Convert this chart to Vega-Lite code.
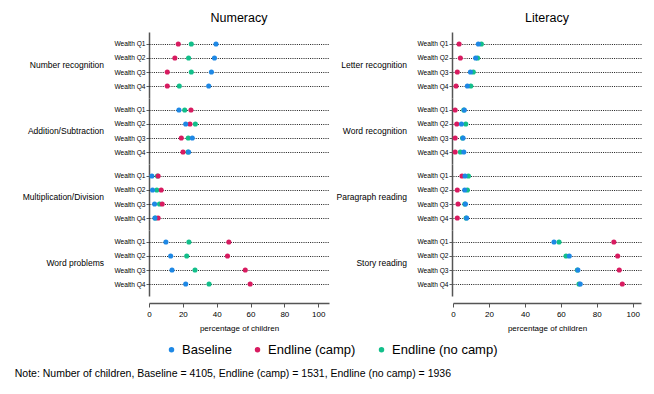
{
  "$schema": "https://vega.github.io/schema/vega-lite/v6.json",
  "background": "white",
  "padding": {"left": 14, "top": 11, "right": 10, "bottom": 10},
  "data": {"values": [
    {"subject": "Numeracy", "category": "Number recognition", "wealth": "Wealth Q1", "survey": "Endline (no camp)", "value": 25.0},
    {"subject": "Numeracy", "category": "Number recognition", "wealth": "Wealth Q1", "survey": "Endline (camp)", "value": 17.3},
    {"subject": "Numeracy", "category": "Number recognition", "wealth": "Wealth Q1", "survey": "Baseline", "value": 39.6},
    {"subject": "Numeracy", "category": "Number recognition", "wealth": "Wealth Q2", "survey": "Endline (no camp)", "value": 23.4},
    {"subject": "Numeracy", "category": "Number recognition", "wealth": "Wealth Q2", "survey": "Endline (camp)", "value": 15.3},
    {"subject": "Numeracy", "category": "Number recognition", "wealth": "Wealth Q2", "survey": "Baseline", "value": 38.7},
    {"subject": "Numeracy", "category": "Number recognition", "wealth": "Wealth Q3", "survey": "Endline (no camp)", "value": 25.0},
    {"subject": "Numeracy", "category": "Number recognition", "wealth": "Wealth Q3", "survey": "Endline (camp)", "value": 10.8},
    {"subject": "Numeracy", "category": "Number recognition", "wealth": "Wealth Q3", "survey": "Baseline", "value": 36.9},
    {"subject": "Numeracy", "category": "Number recognition", "wealth": "Wealth Q4", "survey": "Endline (no camp)", "value": 17.9},
    {"subject": "Numeracy", "category": "Number recognition", "wealth": "Wealth Q4", "survey": "Endline (camp)", "value": 10.8},
    {"subject": "Numeracy", "category": "Number recognition", "wealth": "Wealth Q4", "survey": "Baseline", "value": 35.3},
    {"subject": "Numeracy", "category": "Addition/Subtraction", "wealth": "Wealth Q1", "survey": "Endline (no camp)", "value": 21.1},
    {"subject": "Numeracy", "category": "Addition/Subtraction", "wealth": "Wealth Q1", "survey": "Endline (camp)", "value": 24.8},
    {"subject": "Numeracy", "category": "Addition/Subtraction", "wealth": "Wealth Q1", "survey": "Baseline", "value": 17.7},
    {"subject": "Numeracy", "category": "Addition/Subtraction", "wealth": "Wealth Q2", "survey": "Endline (no camp)", "value": 27.4},
    {"subject": "Numeracy", "category": "Addition/Subtraction", "wealth": "Wealth Q2", "survey": "Endline (camp)", "value": 24.2},
    {"subject": "Numeracy", "category": "Addition/Subtraction", "wealth": "Wealth Q2", "survey": "Baseline", "value": 21.7},
    {"subject": "Numeracy", "category": "Addition/Subtraction", "wealth": "Wealth Q3", "survey": "Endline (no camp)", "value": 23.2},
    {"subject": "Numeracy", "category": "Addition/Subtraction", "wealth": "Wealth Q3", "survey": "Endline (camp)", "value": 19.1},
    {"subject": "Numeracy", "category": "Addition/Subtraction", "wealth": "Wealth Q3", "survey": "Baseline", "value": 25.6},
    {"subject": "Numeracy", "category": "Addition/Subtraction", "wealth": "Wealth Q4", "survey": "Endline (no camp)", "value": 23.0},
    {"subject": "Numeracy", "category": "Addition/Subtraction", "wealth": "Wealth Q4", "survey": "Endline (camp)", "value": 20.1},
    {"subject": "Numeracy", "category": "Addition/Subtraction", "wealth": "Wealth Q4", "survey": "Baseline", "value": 23.4},
    {"subject": "Numeracy", "category": "Multiplication/Division", "wealth": "Wealth Q1", "survey": "Endline (no camp)", "value": 5.0},
    {"subject": "Numeracy", "category": "Multiplication/Division", "wealth": "Wealth Q1", "survey": "Endline (camp)", "value": 5.4},
    {"subject": "Numeracy", "category": "Multiplication/Division", "wealth": "Wealth Q1", "survey": "Baseline", "value": 1.7},
    {"subject": "Numeracy", "category": "Multiplication/Division", "wealth": "Wealth Q2", "survey": "Endline (no camp)", "value": 4.6},
    {"subject": "Numeracy", "category": "Multiplication/Division", "wealth": "Wealth Q2", "survey": "Endline (camp)", "value": 7.2},
    {"subject": "Numeracy", "category": "Multiplication/Division", "wealth": "Wealth Q2", "survey": "Baseline", "value": 2.1},
    {"subject": "Numeracy", "category": "Multiplication/Division", "wealth": "Wealth Q3", "survey": "Endline (no camp)", "value": 6.2},
    {"subject": "Numeracy", "category": "Multiplication/Division", "wealth": "Wealth Q3", "survey": "Endline (camp)", "value": 7.8},
    {"subject": "Numeracy", "category": "Multiplication/Division", "wealth": "Wealth Q3", "survey": "Baseline", "value": 3.3},
    {"subject": "Numeracy", "category": "Multiplication/Division", "wealth": "Wealth Q4", "survey": "Endline (no camp)", "value": 3.8},
    {"subject": "Numeracy", "category": "Multiplication/Division", "wealth": "Wealth Q4", "survey": "Endline (camp)", "value": 5.4},
    {"subject": "Numeracy", "category": "Multiplication/Division", "wealth": "Wealth Q4", "survey": "Baseline", "value": 3.5},
    {"subject": "Numeracy", "category": "Word problems", "wealth": "Wealth Q1", "survey": "Endline (no camp)", "value": 23.6},
    {"subject": "Numeracy", "category": "Word problems", "wealth": "Wealth Q1", "survey": "Endline (camp)", "value": 47.2},
    {"subject": "Numeracy", "category": "Word problems", "wealth": "Wealth Q1", "survey": "Baseline", "value": 10.0},
    {"subject": "Numeracy", "category": "Word problems", "wealth": "Wealth Q2", "survey": "Endline (no camp)", "value": 22.3},
    {"subject": "Numeracy", "category": "Word problems", "wealth": "Wealth Q2", "survey": "Endline (camp)", "value": 46.4},
    {"subject": "Numeracy", "category": "Word problems", "wealth": "Wealth Q2", "survey": "Baseline", "value": 12.8},
    {"subject": "Numeracy", "category": "Word problems", "wealth": "Wealth Q3", "survey": "Endline (no camp)", "value": 27.2},
    {"subject": "Numeracy", "category": "Word problems", "wealth": "Wealth Q3", "survey": "Endline (camp)", "value": 56.9},
    {"subject": "Numeracy", "category": "Word problems", "wealth": "Wealth Q3", "survey": "Baseline", "value": 13.6},
    {"subject": "Numeracy", "category": "Word problems", "wealth": "Wealth Q4", "survey": "Endline (no camp)", "value": 35.5},
    {"subject": "Numeracy", "category": "Word problems", "wealth": "Wealth Q4", "survey": "Endline (camp)", "value": 59.8},
    {"subject": "Numeracy", "category": "Word problems", "wealth": "Wealth Q4", "survey": "Baseline", "value": 21.7},
    {"subject": "Literacy", "category": "Letter recognition", "wealth": "Wealth Q1", "survey": "Endline (no camp)", "value": 15.8},
    {"subject": "Literacy", "category": "Letter recognition", "wealth": "Wealth Q1", "survey": "Endline (camp)", "value": 3.4},
    {"subject": "Literacy", "category": "Letter recognition", "wealth": "Wealth Q1", "survey": "Baseline", "value": 14.1},
    {"subject": "Literacy", "category": "Letter recognition", "wealth": "Wealth Q2", "survey": "Endline (no camp)", "value": 13.7},
    {"subject": "Literacy", "category": "Letter recognition", "wealth": "Wealth Q2", "survey": "Endline (camp)", "value": 4.1},
    {"subject": "Literacy", "category": "Letter recognition", "wealth": "Wealth Q2", "survey": "Baseline", "value": 12.6},
    {"subject": "Literacy", "category": "Letter recognition", "wealth": "Wealth Q3", "survey": "Endline (no camp)", "value": 11.3},
    {"subject": "Literacy", "category": "Letter recognition", "wealth": "Wealth Q3", "survey": "Endline (camp)", "value": 2.4},
    {"subject": "Literacy", "category": "Letter recognition", "wealth": "Wealth Q3", "survey": "Baseline", "value": 9.7},
    {"subject": "Literacy", "category": "Letter recognition", "wealth": "Wealth Q4", "survey": "Endline (no camp)", "value": 9.9},
    {"subject": "Literacy", "category": "Letter recognition", "wealth": "Wealth Q4", "survey": "Endline (camp)", "value": 1.7},
    {"subject": "Literacy", "category": "Letter recognition", "wealth": "Wealth Q4", "survey": "Baseline", "value": 8.0},
    {"subject": "Literacy", "category": "Word recognition", "wealth": "Wealth Q1", "survey": "Endline (no camp)", "value": 6.0},
    {"subject": "Literacy", "category": "Word recognition", "wealth": "Wealth Q1", "survey": "Endline (camp)", "value": 1.2},
    {"subject": "Literacy", "category": "Word recognition", "wealth": "Wealth Q1", "survey": "Baseline", "value": 6.3},
    {"subject": "Literacy", "category": "Word recognition", "wealth": "Wealth Q2", "survey": "Endline (no camp)", "value": 7.1},
    {"subject": "Literacy", "category": "Word recognition", "wealth": "Wealth Q2", "survey": "Endline (camp)", "value": 2.1},
    {"subject": "Literacy", "category": "Word recognition", "wealth": "Wealth Q2", "survey": "Baseline", "value": 4.7},
    {"subject": "Literacy", "category": "Word recognition", "wealth": "Wealth Q3", "survey": "Endline (no camp)", "value": 5.3},
    {"subject": "Literacy", "category": "Word recognition", "wealth": "Wealth Q3", "survey": "Endline (camp)", "value": 1.2},
    {"subject": "Literacy", "category": "Word recognition", "wealth": "Wealth Q3", "survey": "Baseline", "value": 5.6},
    {"subject": "Literacy", "category": "Word recognition", "wealth": "Wealth Q4", "survey": "Endline (no camp)", "value": 4.1},
    {"subject": "Literacy", "category": "Word recognition", "wealth": "Wealth Q4", "survey": "Endline (camp)", "value": 1.2},
    {"subject": "Literacy", "category": "Word recognition", "wealth": "Wealth Q4", "survey": "Baseline", "value": 6.0},
    {"subject": "Literacy", "category": "Paragraph reading", "wealth": "Wealth Q1", "survey": "Endline (no camp)", "value": 8.6},
    {"subject": "Literacy", "category": "Paragraph reading", "wealth": "Wealth Q1", "survey": "Endline (camp)", "value": 5.0},
    {"subject": "Literacy", "category": "Paragraph reading", "wealth": "Wealth Q1", "survey": "Baseline", "value": 6.7},
    {"subject": "Literacy", "category": "Paragraph reading", "wealth": "Wealth Q2", "survey": "Endline (no camp)", "value": 8.0},
    {"subject": "Literacy", "category": "Paragraph reading", "wealth": "Wealth Q2", "survey": "Endline (camp)", "value": 2.4},
    {"subject": "Literacy", "category": "Paragraph reading", "wealth": "Wealth Q2", "survey": "Baseline", "value": 6.5},
    {"subject": "Literacy", "category": "Paragraph reading", "wealth": "Wealth Q3", "survey": "Endline (no camp)", "value": 6.6},
    {"subject": "Literacy", "category": "Paragraph reading", "wealth": "Wealth Q3", "survey": "Endline (camp)", "value": 2.8},
    {"subject": "Literacy", "category": "Paragraph reading", "wealth": "Wealth Q3", "survey": "Baseline", "value": 6.9},
    {"subject": "Literacy", "category": "Paragraph reading", "wealth": "Wealth Q4", "survey": "Endline (no camp)", "value": 7.3},
    {"subject": "Literacy", "category": "Paragraph reading", "wealth": "Wealth Q4", "survey": "Endline (camp)", "value": 2.4},
    {"subject": "Literacy", "category": "Paragraph reading", "wealth": "Wealth Q4", "survey": "Baseline", "value": 7.6},
    {"subject": "Literacy", "category": "Story reading", "wealth": "Wealth Q1", "survey": "Endline (no camp)", "value": 59.0},
    {"subject": "Literacy", "category": "Story reading", "wealth": "Wealth Q1", "survey": "Endline (camp)", "value": 89.5},
    {"subject": "Literacy", "category": "Story reading", "wealth": "Wealth Q1", "survey": "Baseline", "value": 56.2},
    {"subject": "Literacy", "category": "Story reading", "wealth": "Wealth Q2", "survey": "Endline (no camp)", "value": 62.9},
    {"subject": "Literacy", "category": "Story reading", "wealth": "Wealth Q2", "survey": "Endline (camp)", "value": 91.6},
    {"subject": "Literacy", "category": "Story reading", "wealth": "Wealth Q2", "survey": "Baseline", "value": 64.7},
    {"subject": "Literacy", "category": "Story reading", "wealth": "Wealth Q3", "survey": "Endline (no camp)", "value": 69.2},
    {"subject": "Literacy", "category": "Story reading", "wealth": "Wealth Q3", "survey": "Endline (camp)", "value": 92.5},
    {"subject": "Literacy", "category": "Story reading", "wealth": "Wealth Q3", "survey": "Baseline", "value": 69.5},
    {"subject": "Literacy", "category": "Story reading", "wealth": "Wealth Q4", "survey": "Endline (no camp)", "value": 70.1},
    {"subject": "Literacy", "category": "Story reading", "wealth": "Wealth Q4", "survey": "Endline (camp)", "value": 94.2},
    {"subject": "Literacy", "category": "Story reading", "wealth": "Wealth Q4", "survey": "Baseline", "value": 70.8}
  ]},
  "title": {"text": "Note: Number of children, Baseline = 4105, Endline (camp) = 1531, Endline (no camp) = 1936", "orient": "bottom", "anchor": "start", "fontSize": 10.5, "fontWeight": "normal", "font": "Liberation Sans", "color": "#000", "offset": 12, "dx": -8},
  "hconcat": [
    {
      "transform": [{"filter": "datum.subject === 'Numeracy'"}],
      "facet": {
        "column": {"field": "subject", "type": "nominal", "header": {"title": null, "labelFontSize": 12.5, "labelFont": "Liberation Sans", "labelColor": "#000", "labelPadding": 8}},
        "row": {"field": "category", "type": "nominal", "sort": ["Number recognition", "Addition/Subtraction", "Multiplication/Division", "Word problems"], "header": {"title": null, "labelOrient": "left", "labelAngle": 0, "labelAlign": "left", "labelFontSize": 8.5, "labelFont": "Liberation Sans", "labelColor": "#000", "labelPadding": 10}}
      },
      "spacing": {"row": 0},
      "spec": {
        "width": 180,
        "height": 66,
        "mark": {"type": "circle", "size": 26, "opacity": 1},
        "encoding": {
          "x": {"field": "value", "type": "quantitative", "scale": {"domain": [0, 106.4], "nice": false, "zero": true}, "axis": {"values": [0, 20, 40, 60, 80, 100], "title": "percentage of children"}},
          "y": {"field": "wealth", "type": "nominal", "sort": ["Wealth Q1", "Wealth Q2", "Wealth Q3", "Wealth Q4"], "scale": {"type": "point", "padding": 0.857}, "axis": {"title": null}},
          "color": {"field": "survey", "type": "nominal", "scale": {"domain": ["Baseline", "Endline (camp)", "Endline (no camp)"], "range": ["#1E88E5", "#D81B60", "#12BF8A"]}, "legend": {"title": null, "orient": "bottom", "direction": "horizontal", "symbolType": "circle", "symbolSize": 30, "labelFontSize": 13, "labelFont": "Liberation Sans", "columnPadding": 19, "symbolOpacity": 1, "offset": 11}}
        }
      }
    },
    {
      "transform": [{"filter": "datum.subject === 'Literacy'"}],
      "facet": {
        "column": {"field": "subject", "type": "nominal", "header": {"title": null, "labelFontSize": 12.5, "labelFont": "Liberation Sans", "labelColor": "#000", "labelPadding": 8}},
        "row": {"field": "category", "type": "nominal", "sort": ["Letter recognition", "Word recognition", "Paragraph reading", "Story reading"], "header": {"title": null, "labelOrient": "left", "labelAngle": 0, "labelAlign": "left", "labelFontSize": 8.5, "labelFont": "Liberation Sans", "labelColor": "#000", "labelPadding": 10}}
      },
      "spacing": {"row": 0},
      "spec": {
        "width": 188,
        "height": 66,
        "mark": {"type": "circle", "size": 26, "opacity": 1},
        "encoding": {
          "x": {"field": "value", "type": "quantitative", "scale": {"domain": [0, 104.6], "nice": false, "zero": true}, "axis": {"values": [0, 20, 40, 60, 80, 100], "title": "percentage of children"}},
          "y": {"field": "wealth", "type": "nominal", "sort": ["Wealth Q1", "Wealth Q2", "Wealth Q3", "Wealth Q4"], "scale": {"type": "point", "padding": 0.857}, "axis": {"title": null}},
          "color": {"field": "survey", "type": "nominal", "scale": {"domain": ["Baseline", "Endline (camp)", "Endline (no camp)"], "range": ["#1E88E5", "#D81B60", "#12BF8A"]}, "legend": {"title": null, "orient": "bottom", "direction": "horizontal", "symbolType": "circle", "symbolSize": 30, "labelFontSize": 13, "labelFont": "Liberation Sans", "columnPadding": 19, "symbolOpacity": 1, "offset": 11}}
        }
      }
    }
  ],
  "spacing": 7,
  "config": {
    "font": "Liberation Sans",
    "view": {"stroke": null},
    "legend": {"layout": {"bottom": {"anchor": "middle"}}},
    "axisY": {"domain": true, "domainColor": "#555", "domainWidth": 1.5, "ticks": true, "tickSize": 3, "tickColor": "#333", "tickWidth": 0.8, "labelFontSize": 6.6, "labelColor": "#000", "labelPadding": 1, "grid": true, "gridColor": "#000", "gridDash": [1, 1.2], "gridWidth": 0.9, "gridOpacity": 1},
    "axisX": {"domain": true, "domainColor": "#555", "domainWidth": 1.5, "ticks": true, "tickSize": 4, "tickColor": "#555", "tickWidth": 1, "labelFontSize": 8, "labelColor": "#000", "labelPadding": 3, "grid": false, "offset": 7, "titleFontSize": 8, "titleFontWeight": "normal", "titleColor": "#000", "titlePadding": 6, "labelFlush": false}
  }
}
